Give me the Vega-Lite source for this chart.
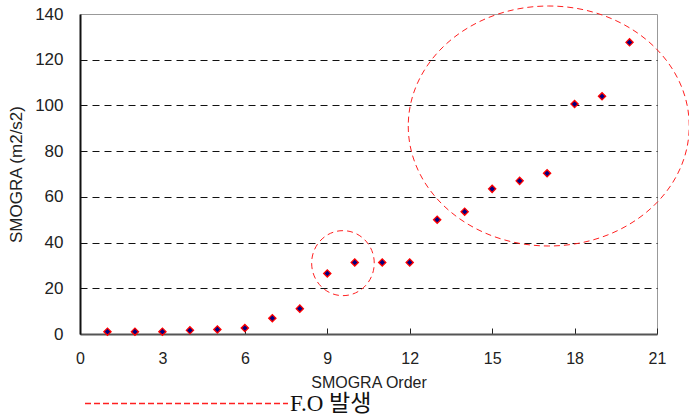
{
  "$schema": "https://vega.github.io/schema/vega-lite/v6.json",
  "width": 577,
  "height": 320,
  "autosize": {"type": "none"},
  "padding": {"left": 80, "top": 14, "right": 32, "bottom": 81},
  "background": "white",
  "config": {
    "view": {"stroke": "#999999", "strokeWidth": 1},
    "font": "Liberation Sans",
    "axis": {"labelFont": "Liberation Sans", "titleFont": "Liberation Sans", "labelColor": "#222", "titleColor": "#222", "titleFontWeight": "normal"}
  },
  "datasets": {
    "points": [
      {"order": 1, "smogra": 1.0},
      {"order": 2, "smogra": 1.0},
      {"order": 3, "smogra": 1.0},
      {"order": 4, "smogra": 1.6},
      {"order": 5, "smogra": 2.0},
      {"order": 6, "smogra": 2.6},
      {"order": 7, "smogra": 6.9},
      {"order": 8, "smogra": 11.1},
      {"order": 9, "smogra": 26.5},
      {"order": 10, "smogra": 31.3},
      {"order": 11, "smogra": 31.3},
      {"order": 12, "smogra": 31.3},
      {"order": 13, "smogra": 50.0},
      {"order": 14, "smogra": 53.5},
      {"order": 15, "smogra": 63.5},
      {"order": 16, "smogra": 67.0},
      {"order": 17, "smogra": 70.3},
      {"order": 18, "smogra": 100.6},
      {"order": 19, "smogra": 104.0},
      {"order": 20, "smogra": 127.6}
    ],
    "regions": [
      {"region": "small", "order": 9.57, "smogra": 31.0},
      {"region": "large", "order": 17.06, "smogra": 91.0}
    ]
  },
  "layer": [
    {
      "data": {"name": "regions"},
      "transform": [{"filter": "datum.region == 'large'"}],
      "mark": {
        "type": "point",
        "filled": false,
        "strokeWidth": 1,
        "strokeDash": [6, 4],
        "opacity": 1,
        "size": 78961,
        "shape": "M -1 0 A 1 0.854 0 1 0 1 0 A 1 0.854 0 1 0 -1 0 Z"
      },
      "encoding": {
        "x": {"field": "order", "type": "quantitative"},
        "y": {"field": "smogra", "type": "quantitative"},
        "stroke": {
          "datum": "F.O 발생",
          "type": "nominal",
          "scale": {"range": ["#ff2020"]},
          "legend": {
            "title": null,
            "orient": "none",
            "legendX": 4,
            "legendY": 287,
            "symbolType": "stroke",
            "symbolSize": 41209,
            "symbolStrokeWidth": 1.5,
            "symbolDash": [6, 3],
            "symbolOpacity": 1,
            "labelFont": "Liberation Serif, Noto Sans CJK KR",
            "labelFontSize": 23,
            "labelColor": "#111",
            "labelOffset": 1,
            "padding": 0,
            "encode": {
              "symbols": {
                "update": {
                  "stroke": {"value": "#ff2020"},
                  "fill": {"value": "transparent"},
                  "strokeDash": {"value": [6, 3]},
                  "strokeWidth": {"value": 1.5},
                  "opacity": {"value": 1},
                  "strokeOpacity": {"value": 1}
                }
              }
            }
          }
        }
      }
    },
    {
      "data": {"name": "regions"},
      "transform": [{"filter": "datum.region == 'small'"}],
      "mark": {
        "type": "point",
        "filled": false,
        "strokeWidth": 1,
        "strokeDash": [6, 4],
        "opacity": 1,
        "size": 4225,
        "shape": "M -0.963 0 A 0.963 1 0 1 0 0.963 0 A 0.963 1 0 1 0 -0.963 0 Z"
      },
      "encoding": {
        "x": {"field": "order", "type": "quantitative"},
        "y": {"field": "smogra", "type": "quantitative"},
        "stroke": {"datum": "F.O 발생", "type": "nominal"}
      }
    },
    {
      "data": {"name": "points"},
      "mark": {
        "type": "point",
        "shape": "diamond",
        "filled": true,
        "fill": "#000080",
        "stroke": "#ff0000",
        "strokeWidth": 1.3,
        "size": 52,
        "opacity": 1
      },
      "encoding": {
        "x": {
          "field": "order",
          "type": "quantitative",
          "scale": {"domain": [0, 21], "nice": false},
          "axis": {
            "title": "SMOGRA Order",
            "titleFontSize": 16,
            "titlePadding": 8,
            "values": [0, 3, 6, 9, 12, 15, 18, 21],
            "grid": false,
            "domainColor": "#555555",
            "domainWidth": 2,
            "ticks": true,
            "tickSize": -6,
            "tickColor": "#222",
            "tickWidth": 1,
            "labelFontSize": 16,
            "labelPadding": 22,
            "labelFlush": false
          }
        },
        "y": {
          "field": "smogra",
          "type": "quantitative",
          "scale": {"domain": [0, 140], "nice": false},
          "axis": {
            "title": "SMOGRA (m2/s2)",
            "titleFontSize": 17,
            "titlePadding": 9,
            "values": [0, 20, 40, 60, 80, 100, 120, 140],
            "grid": true,
            "gridColor": "#111111",
            "gridDash": [7, 5],
            "gridWidth": 1,
            "gridOpacity": {"condition": {"test": "datum.value == 0 || datum.value == 140", "value": 0}, "value": 1},
            "domainColor": "#111111",
            "domainWidth": 2,
            "ticks": false,
            "labelFontSize": 17,
            "labelPadding": 17
          }
        }
      }
    }
  ]
}
